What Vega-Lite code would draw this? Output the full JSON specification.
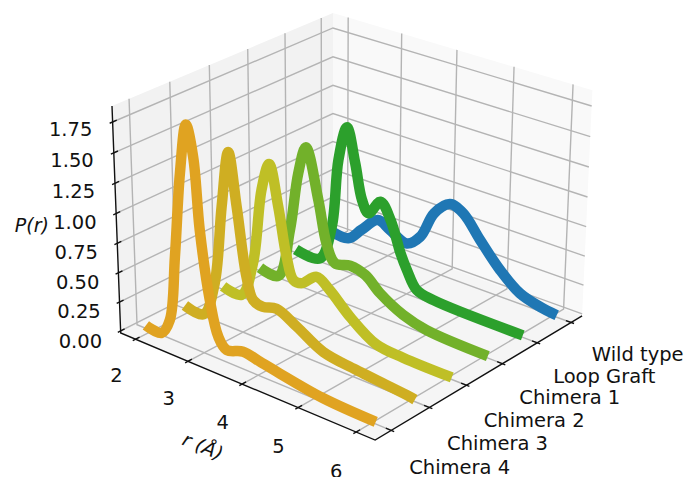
{"$schema":"https://vega.github.io/schema/vega-lite/v6.json","width":684,"height":477,"padding":0,"autosize":"none","background":"white","config":{"view":{"stroke":null}},
"data":{"values":[
{"kind":"left","i":0,"r":1.71,"s":-0.41,"p":-0.0174},{"kind":"left","i":1,"r":1.71,"s":5.33,"p":-0.0174},{"kind":"left","i":2,"r":1.71,"s":5.33,"p":1.8786},{"kind":"left","i":3,"r":1.71,"s":-0.41,"p":1.8786},
{"kind":"right","i":0,"r":1.71,"s":5.33,"p":-0.0174},{"kind":"right","i":1,"r":6.32,"s":5.33,"p":-0.0174},{"kind":"right","i":2,"r":6.32,"s":5.33,"p":1.8786},{"kind":"right","i":3,"r":1.71,"s":5.33,"p":1.8786},
{"kind":"floor","i":0,"r":1.71,"s":-0.41,"p":-0.0174},{"kind":"floor","i":1,"r":6.32,"s":-0.41,"p":-0.0174},{"kind":"floor","i":2,"r":6.32,"s":5.33,"p":-0.0174},{"kind":"floor","i":3,"r":1.71,"s":5.33,"p":-0.0174},
{"kind":"grid","id":"r2","i":0,"r":2,"s":-0.41,"p":-0.0174},{"kind":"grid","id":"r2","i":1,"r":2,"s":5.33,"p":-0.0174},{"kind":"grid","id":"r2","i":2,"r":2,"s":5.33,"p":1.8786},
{"kind":"grid","id":"r3","i":0,"r":3,"s":-0.41,"p":-0.0174},{"kind":"grid","id":"r3","i":1,"r":3,"s":5.33,"p":-0.0174},{"kind":"grid","id":"r3","i":2,"r":3,"s":5.33,"p":1.8786},
{"kind":"grid","id":"r4","i":0,"r":4,"s":-0.41,"p":-0.0174},{"kind":"grid","id":"r4","i":1,"r":4,"s":5.33,"p":-0.0174},{"kind":"grid","id":"r4","i":2,"r":4,"s":5.33,"p":1.8786},
{"kind":"grid","id":"r5","i":0,"r":5,"s":-0.41,"p":-0.0174},{"kind":"grid","id":"r5","i":1,"r":5,"s":5.33,"p":-0.0174},{"kind":"grid","id":"r5","i":2,"r":5,"s":5.33,"p":1.8786},
{"kind":"grid","id":"r6","i":0,"r":6,"s":-0.41,"p":-0.0174},{"kind":"grid","id":"r6","i":1,"r":6,"s":5.33,"p":-0.0174},{"kind":"grid","id":"r6","i":2,"r":6,"s":5.33,"p":1.8786},
{"kind":"grid","id":"s0","i":0,"r":6.32,"s":0,"p":-0.0174},{"kind":"grid","id":"s0","i":1,"r":1.71,"s":0,"p":-0.0174},{"kind":"grid","id":"s0","i":2,"r":1.71,"s":0,"p":1.8786},
{"kind":"grid","id":"s1","i":0,"r":6.32,"s":1,"p":-0.0174},{"kind":"grid","id":"s1","i":1,"r":1.71,"s":1,"p":-0.0174},{"kind":"grid","id":"s1","i":2,"r":1.71,"s":1,"p":1.8786},
{"kind":"grid","id":"s2","i":0,"r":6.32,"s":2,"p":-0.0174},{"kind":"grid","id":"s2","i":1,"r":1.71,"s":2,"p":-0.0174},{"kind":"grid","id":"s2","i":2,"r":1.71,"s":2,"p":1.8786},
{"kind":"grid","id":"s3","i":0,"r":6.32,"s":3,"p":-0.0174},{"kind":"grid","id":"s3","i":1,"r":1.71,"s":3,"p":-0.0174},{"kind":"grid","id":"s3","i":2,"r":1.71,"s":3,"p":1.8786},
{"kind":"grid","id":"s4","i":0,"r":6.32,"s":4,"p":-0.0174},{"kind":"grid","id":"s4","i":1,"r":1.71,"s":4,"p":-0.0174},{"kind":"grid","id":"s4","i":2,"r":1.71,"s":4,"p":1.8786},
{"kind":"grid","id":"s5","i":0,"r":6.32,"s":5,"p":-0.0174},{"kind":"grid","id":"s5","i":1,"r":1.71,"s":5,"p":-0.0174},{"kind":"grid","id":"s5","i":2,"r":1.71,"s":5,"p":1.8786},
{"kind":"grid","id":"p0","i":0,"r":1.71,"s":-0.41,"p":0},{"kind":"grid","id":"p0","i":1,"r":1.71,"s":5.33,"p":0},{"kind":"grid","id":"p0","i":2,"r":6.32,"s":5.33,"p":0},
{"kind":"grid","id":"p1","i":0,"r":1.71,"s":-0.41,"p":0.25},{"kind":"grid","id":"p1","i":1,"r":1.71,"s":5.33,"p":0.25},{"kind":"grid","id":"p1","i":2,"r":6.32,"s":5.33,"p":0.25},
{"kind":"grid","id":"p2","i":0,"r":1.71,"s":-0.41,"p":0.5},{"kind":"grid","id":"p2","i":1,"r":1.71,"s":5.33,"p":0.5},{"kind":"grid","id":"p2","i":2,"r":6.32,"s":5.33,"p":0.5},
{"kind":"grid","id":"p3","i":0,"r":1.71,"s":-0.41,"p":0.75},{"kind":"grid","id":"p3","i":1,"r":1.71,"s":5.33,"p":0.75},{"kind":"grid","id":"p3","i":2,"r":6.32,"s":5.33,"p":0.75},
{"kind":"grid","id":"p4","i":0,"r":1.71,"s":-0.41,"p":1},{"kind":"grid","id":"p4","i":1,"r":1.71,"s":5.33,"p":1},{"kind":"grid","id":"p4","i":2,"r":6.32,"s":5.33,"p":1},
{"kind":"grid","id":"p5","i":0,"r":1.71,"s":-0.41,"p":1.25},{"kind":"grid","id":"p5","i":1,"r":1.71,"s":5.33,"p":1.25},{"kind":"grid","id":"p5","i":2,"r":6.32,"s":5.33,"p":1.25},
{"kind":"grid","id":"p6","i":0,"r":1.71,"s":-0.41,"p":1.5},{"kind":"grid","id":"p6","i":1,"r":1.71,"s":5.33,"p":1.5},{"kind":"grid","id":"p6","i":2,"r":6.32,"s":5.33,"p":1.5},
{"kind":"grid","id":"p7","i":0,"r":1.71,"s":-0.41,"p":1.75},{"kind":"grid","id":"p7","i":1,"r":1.71,"s":5.33,"p":1.75},{"kind":"grid","id":"p7","i":2,"r":6.32,"s":5.33,"p":1.75},
{"kind":"axis","id":"a","i":0,"r":1.71,"s":-0.41,"p":1.8786},{"kind":"axis","id":"a","i":1,"r":1.71,"s":-0.41,"p":-0.0174},{"kind":"axis","id":"a","i":2,"r":6.32,"s":-0.41,"p":-0.0174},{"kind":"axis","id":"a","i":3,"r":6.32,"s":5.33,"p":-0.0174},
{"kind":"axis","id":"tr2","i":0,"r":2,"s":-0.31,"p":-0.0174},{"kind":"axis","id":"tr2","i":1,"r":2,"s":-0.48,"p":-0.0174},
{"kind":"axis","id":"tr3","i":0,"r":3,"s":-0.31,"p":-0.0174},{"kind":"axis","id":"tr3","i":1,"r":3,"s":-0.48,"p":-0.0174},
{"kind":"axis","id":"tr4","i":0,"r":4,"s":-0.31,"p":-0.0174},{"kind":"axis","id":"tr4","i":1,"r":4,"s":-0.48,"p":-0.0174},
{"kind":"axis","id":"tr5","i":0,"r":5,"s":-0.31,"p":-0.0174},{"kind":"axis","id":"tr5","i":1,"r":5,"s":-0.48,"p":-0.0174},
{"kind":"axis","id":"tr6","i":0,"r":6,"s":-0.31,"p":-0.0174},{"kind":"axis","id":"tr6","i":1,"r":6,"s":-0.48,"p":-0.0174},
{"kind":"axis","id":"ts0","i":0,"r":6.23,"s":0,"p":-0.0174},{"kind":"axis","id":"ts0","i":1,"r":6.37,"s":0,"p":-0.0174},
{"kind":"axis","id":"ts1","i":0,"r":6.23,"s":1,"p":-0.0174},{"kind":"axis","id":"ts1","i":1,"r":6.37,"s":1,"p":-0.0174},
{"kind":"axis","id":"ts2","i":0,"r":6.23,"s":2,"p":-0.0174},{"kind":"axis","id":"ts2","i":1,"r":6.37,"s":2,"p":-0.0174},
{"kind":"axis","id":"ts3","i":0,"r":6.23,"s":3,"p":-0.0174},{"kind":"axis","id":"ts3","i":1,"r":6.37,"s":3,"p":-0.0174},
{"kind":"axis","id":"ts4","i":0,"r":6.23,"s":4,"p":-0.0174},{"kind":"axis","id":"ts4","i":1,"r":6.37,"s":4,"p":-0.0174},
{"kind":"axis","id":"ts5","i":0,"r":6.23,"s":5,"p":-0.0174},{"kind":"axis","id":"ts5","i":1,"r":6.37,"s":5,"p":-0.0174},
{"kind":"axis","id":"tp0","i":0,"r":1.71,"s":-0.31,"p":0},{"kind":"axis","id":"tp0","i":1,"r":1.71,"s":-0.48,"p":0},
{"kind":"axis","id":"tp1","i":0,"r":1.71,"s":-0.31,"p":0.25},{"kind":"axis","id":"tp1","i":1,"r":1.71,"s":-0.48,"p":0.25},
{"kind":"axis","id":"tp2","i":0,"r":1.71,"s":-0.31,"p":0.5},{"kind":"axis","id":"tp2","i":1,"r":1.71,"s":-0.48,"p":0.5},
{"kind":"axis","id":"tp3","i":0,"r":1.71,"s":-0.31,"p":0.75},{"kind":"axis","id":"tp3","i":1,"r":1.71,"s":-0.48,"p":0.75},
{"kind":"axis","id":"tp4","i":0,"r":1.71,"s":-0.31,"p":1},{"kind":"axis","id":"tp4","i":1,"r":1.71,"s":-0.48,"p":1},
{"kind":"axis","id":"tp5","i":0,"r":1.71,"s":-0.31,"p":1.25},{"kind":"axis","id":"tp5","i":1,"r":1.71,"s":-0.48,"p":1.25},
{"kind":"axis","id":"tp6","i":0,"r":1.71,"s":-0.31,"p":1.5},{"kind":"axis","id":"tp6","i":1,"r":1.71,"s":-0.48,"p":1.5},
{"kind":"axis","id":"tp7","i":0,"r":1.71,"s":-0.31,"p":1.75},{"kind":"axis","id":"tp7","i":1,"r":1.71,"s":-0.48,"p":1.75},
{"kind":"curve","series":"Wild type","i":0,"s":5,"r":1.89,"p":0.02},{"kind":"curve","series":"Wild type","i":1,"s":5,"r":2.236,"p":0.01},{"kind":"curve","series":"Wild type","i":2,"s":5,"r":2.49,"p":0.13},{"kind":"curve","series":"Wild type","i":3,"s":5,"r":2.8,"p":0.27},{"kind":"curve","series":"Wild type","i":4,"s":5,"r":3.04,"p":0.22},{"kind":"curve","series":"Wild type","i":5,"s":5,"r":3.356,"p":0.153},{"kind":"curve","series":"Wild type","i":6,"s":5,"r":3.605,"p":0.257},{"kind":"curve","series":"Wild type","i":7,"s":5,"r":3.853,"p":0.506},{"kind":"curve","series":"Wild type","i":8,"s":5,"r":4.135,"p":0.633},{"kind":"curve","series":"Wild type","i":9,"s":5,"r":4.38,"p":0.593},{"kind":"curve","series":"Wild type","i":10,"s":5,"r":4.69,"p":0.414},{"kind":"curve","series":"Wild type","i":11,"s":5,"r":5.06,"p":0.214},{"kind":"curve","series":"Wild type","i":12,"s":5,"r":5.42,"p":0.074},{"kind":"curve","series":"Wild type","i":13,"s":5,"r":5.78,"p":0.02},{"kind":"curve","series":"Wild type","i":14,"s":5,"r":6.07,"p":0},
{"kind":"curve","series":"Loop Graft","i":0,"s":4,"r":1.89,"p":0.01},{"kind":"curve","series":"Loop Graft","i":1,"s":4,"r":2.36,"p":0.01},{"kind":"curve","series":"Loop Graft","i":2,"s":4,"r":2.59,"p":0.335},{"kind":"curve","series":"Loop Graft","i":3,"s":4,"r":2.715,"p":0.94},{"kind":"curve","series":"Loop Graft","i":4,"s":4,"r":2.874,"p":1.247},{"kind":"curve","series":"Loop Graft","i":5,"s":4,"r":3.03,"p":0.963},{"kind":"curve","series":"Loop Graft","i":6,"s":4,"r":3.16,"p":0.664},{"kind":"curve","series":"Loop Graft","i":7,"s":4,"r":3.284,"p":0.569},{"kind":"curve","series":"Loop Graft","i":8,"s":4,"r":3.5,"p":0.705},{"kind":"curve","series":"Loop Graft","i":9,"s":4,"r":3.69,"p":0.578},{"kind":"curve","series":"Loop Graft","i":10,"s":4,"r":3.88,"p":0.32},{"kind":"curve","series":"Loop Graft","i":11,"s":4,"r":4,"p":0.194},{"kind":"curve","series":"Loop Graft","i":12,"s":4,"r":4.185,"p":0.05},{"kind":"curve","series":"Loop Graft","i":13,"s":4,"r":4.49,"p":0.016},{"kind":"curve","series":"Loop Graft","i":14,"s":4,"r":6.07,"p":0},
{"kind":"curve","series":"Chimera 1","i":0,"s":3,"r":1.89,"p":0.01},{"kind":"curve","series":"Chimera 1","i":1,"s":3,"r":2.25,"p":0},{"kind":"curve","series":"Chimera 1","i":2,"s":3,"r":2.48,"p":0.447},{"kind":"curve","series":"Chimera 1","i":3,"s":3,"r":2.646,"p":0.968},{"kind":"curve","series":"Chimera 1","i":4,"s":3,"r":2.79,"p":1.21},{"kind":"curve","series":"Chimera 1","i":5,"s":3,"r":3.02,"p":0.796},{"kind":"curve","series":"Chimera 1","i":6,"s":3,"r":3.17,"p":0.448},{"kind":"curve","series":"Chimera 1","i":7,"s":3,"r":3.33,"p":0.3},{"kind":"curve","series":"Chimera 1","i":8,"s":3,"r":3.61,"p":0.33},{"kind":"curve","series":"Chimera 1","i":9,"s":3,"r":3.89,"p":0.297},{"kind":"curve","series":"Chimera 1","i":10,"s":3,"r":4.16,"p":0.187},{"kind":"curve","series":"Chimera 1","i":11,"s":3,"r":4.58,"p":0.076},{"kind":"curve","series":"Chimera 1","i":12,"s":3,"r":5,"p":0.022},{"kind":"curve","series":"Chimera 1","i":13,"s":3,"r":6.07,"p":0},
{"kind":"curve","series":"Chimera 2","i":0,"s":2,"r":1.89,"p":0.01},{"kind":"curve","series":"Chimera 2","i":1,"s":2,"r":2.25,"p":0},{"kind":"curve","series":"Chimera 2","i":2,"s":2,"r":2.48,"p":0.32},{"kind":"curve","series":"Chimera 2","i":3,"s":2,"r":2.66,"p":0.98},{"kind":"curve","series":"Chimera 2","i":4,"s":2,"r":2.807,"p":1.22},{"kind":"curve","series":"Chimera 2","i":5,"s":2,"r":2.97,"p":0.887},{"kind":"curve","series":"Chimera 2","i":6,"s":2,"r":3.117,"p":0.485},{"kind":"curve","series":"Chimera 2","i":7,"s":2,"r":3.24,"p":0.307},{"kind":"curve","series":"Chimera 2","i":8,"s":2,"r":3.39,"p":0.305},{"kind":"curve","series":"Chimera 2","i":9,"s":2,"r":3.67,"p":0.41},{"kind":"curve","series":"Chimera 2","i":10,"s":2,"r":3.91,"p":0.34},{"kind":"curve","series":"Chimera 2","i":11,"s":2,"r":4.28,"p":0.177},{"kind":"curve","series":"Chimera 2","i":12,"s":2,"r":4.75,"p":0.03},{"kind":"curve","series":"Chimera 2","i":13,"s":2,"r":5.226,"p":0.005},{"kind":"curve","series":"Chimera 2","i":14,"s":2,"r":6.07,"p":0},
{"kind":"curve","series":"Chimera 3","i":0,"s":1,"r":1.885,"p":0.01},{"kind":"curve","series":"Chimera 3","i":1,"s":1,"r":2.25,"p":0},{"kind":"curve","series":"Chimera 3","i":2,"s":1,"r":2.475,"p":0.31},{"kind":"curve","series":"Chimera 3","i":3,"s":1,"r":2.637,"p":0.99},{"kind":"curve","series":"Chimera 3","i":4,"s":1,"r":2.778,"p":1.465},{"kind":"curve","series":"Chimera 3","i":5,"s":1,"r":2.918,"p":1.035},{"kind":"curve","series":"Chimera 3","i":6,"s":1,"r":3.08,"p":0.474},{"kind":"curve","series":"Chimera 3","i":7,"s":1,"r":3.2,"p":0.295},{"kind":"curve","series":"Chimera 3","i":8,"s":1,"r":3.38,"p":0.27},{"kind":"curve","series":"Chimera 3","i":9,"s":1,"r":3.63,"p":0.3},{"kind":"curve","series":"Chimera 3","i":10,"s":1,"r":4,"p":0.215},{"kind":"curve","series":"Chimera 3","i":11,"s":1,"r":4.476,"p":0.09},{"kind":"curve","series":"Chimera 3","i":12,"s":1,"r":5.06,"p":0.05},{"kind":"curve","series":"Chimera 3","i":13,"s":1,"r":5.93,"p":0.01},{"kind":"curve","series":"Chimera 3","i":14,"s":1,"r":6.075,"p":0},
{"kind":"curve","series":"Chimera 4","i":0,"s":0,"r":1.885,"p":0.01},{"kind":"curve","series":"Chimera 4","i":1,"s":0,"r":2.19,"p":0},{"kind":"curve","series":"Chimera 4","i":2,"s":0,"r":2.358,"p":0.144},{"kind":"curve","series":"Chimera 4","i":3,"s":0,"r":2.49,"p":0.705},{"kind":"curve","series":"Chimera 4","i":4,"s":0,"r":2.628,"p":1.42},{"kind":"curve","series":"Chimera 4","i":5,"s":0,"r":2.76,"p":1.83},{"kind":"curve","series":"Chimera 4","i":6,"s":0,"r":2.88,"p":1.59},{"kind":"curve","series":"Chimera 4","i":7,"s":0,"r":2.97,"p":1.008},{"kind":"curve","series":"Chimera 4","i":8,"s":0,"r":3.128,"p":0.454},{"kind":"curve","series":"Chimera 4","i":9,"s":0,"r":3.273,"p":0.17},{"kind":"curve","series":"Chimera 4","i":10,"s":0,"r":3.424,"p":0.086},{"kind":"curve","series":"Chimera 4","i":11,"s":0,"r":3.729,"p":0.13},{"kind":"curve","series":"Chimera 4","i":12,"s":0,"r":4.036,"p":0.103},{"kind":"curve","series":"Chimera 4","i":13,"s":0,"r":4.337,"p":0.077},{"kind":"curve","series":"Chimera 4","i":14,"s":0,"r":5.15,"p":0.016},{"kind":"curve","series":"Chimera 4","i":15,"s":0,"r":6.06,"p":0},
{"kind":"label","label":"2","r":2,"s":-0.91,"p":-0.25},{"kind":"label","label":"3","r":3,"s":-0.91,"p":-0.25},{"kind":"label","label":"4","r":4,"s":-0.91,"p":-0.25},{"kind":"label","label":"5","r":5,"s":-0.91,"p":-0.25},{"kind":"label","label":"6","r":6,"s":-0.91,"p":-0.25},
{"kind":"label","label":"Chimera 4","r":7.45,"s":0,"p":-0.09},{"kind":"label","label":"Chimera 3","r":7.45,"s":1,"p":-0.09},{"kind":"label","label":"Chimera 2","r":7.45,"s":2,"p":-0.09},{"kind":"label","label":"Chimera 1","r":7.45,"s":3,"p":-0.09},{"kind":"label","label":"Loop Graft","r":7.45,"s":4,"p":-0.09},{"kind":"label","label":"Wild type","r":7.45,"s":5,"p":-0.09},
{"kind":"label","label":"0.00","r":1.71,"s":-1.39,"p":0.08},{"kind":"label","label":"0.25","r":1.71,"s":-1.39,"p":0.33},{"kind":"label","label":"0.50","r":1.71,"s":-1.39,"p":0.58},{"kind":"label","label":"0.75","r":1.71,"s":-1.39,"p":0.83},{"kind":"label","label":"1.00","r":1.71,"s":-1.39,"p":1.08},{"kind":"label","label":"1.25","r":1.71,"s":-1.39,"p":1.33},{"kind":"label","label":"1.50","r":1.71,"s":-1.39,"p":1.58},{"kind":"label","label":"1.75","r":1.71,"s":-1.39,"p":1.83},
{"kind":"ptitle","label":"P(r)","r":1.71,"s":-2.37,"p":1.21},
{"kind":"rtitle","label":"r (Å)","r":4,"s":-1.41,"p":-0.36}
]},
"transform":[
{"calculate":"(datum.r-1.71)/4.61","as":"u"},
{"calculate":"(datum.s+0.41)/5.74","as":"w"},
{"calculate":"(datum.p+0.0174)/1.896","as":"t"},
{"calculate":"1-0.0758*datum.u+0.08405*datum.w-0.0397*datum.t","as":"d"},
{"calculate":"(120.7+226*datum.u+240.2*datum.w-13.15*datum.t)/datum.d","as":"sx"},
{"calculate":"(333+73.7*datum.u-88.2*datum.w-231.2*datum.t)/datum.d","as":"sy"}
],
"encoding":{
"x":{"field":"sx","type":"quantitative","axis":null,"scale":{"domain":[0,684],"nice":false,"zero":false}},
"y":{"field":"sy","type":"quantitative","axis":null,"scale":{"domain":[477,0],"nice":false,"zero":false}}
},
"layer":[
{"transform":[{"filter":"datum.kind=='left'"}],"mark":{"type":"line","fill":"#f2f2f2","stroke":"#f2f2f2","strokeWidth":0},"encoding":{"order":{"field":"i"}}},
{"transform":[{"filter":"datum.kind=='right'"}],"mark":{"type":"line","fill":"#f9f9f9","stroke":"#f9f9f9","strokeWidth":0},"encoding":{"order":{"field":"i"}}},
{"transform":[{"filter":"datum.kind=='floor'"}],"mark":{"type":"line","fill":"#f5f5f5","stroke":"#f5f5f5","strokeWidth":0},"encoding":{"order":{"field":"i"}}},
{"transform":[{"filter":"datum.kind=='grid'"}],"mark":{"type":"line","stroke":"#b4b4b4","strokeWidth":1.4},"encoding":{"detail":{"field":"id"},"order":{"field":"i"}}},
{"transform":[{"filter":"datum.kind=='axis'"}],"mark":{"type":"line","stroke":"#111111","strokeWidth":1.4},"encoding":{"detail":{"field":"id"},"order":{"field":"i"}}},
{"transform":[{"filter":"datum.kind=='curve'"}],"mark":{"type":"line","strokeWidth":10.5,"strokeCap":"butt","strokeJoin":"round","interpolate":"catmull-rom"},"encoding":{"color":{"field":"series","type":"nominal","legend":null,"sort":null,"scale":{"domain":["Wild type","Loop Graft","Chimera 1","Chimera 2","Chimera 3","Chimera 4"],"range":["#1f77b4","#2ca02c","#72b12a","#bfbf26","#cfae22","#e0a321"]}},"order":{"field":"i"}}},
{"transform":[{"filter":"datum.kind=='label'"}],"mark":{"type":"text","font":"DejaVu Sans","fontSize":19.5,"fill":"#111111","align":"center","baseline":"middle"},"encoding":{"text":{"field":"label"}}},
{"transform":[{"filter":"datum.kind=='ptitle'"}],"mark":{"type":"text","font":"DejaVu Sans","fontStyle":"italic","fontSize":19,"fill":"#111111","align":"center","baseline":"middle"},"encoding":{"text":{"field":"label"}}},
{"transform":[{"filter":"datum.kind=='rtitle'"}],"mark":{"type":"text","font":"DejaVu Sans","fontStyle":"italic","fontSize":19,"fill":"#111111","align":"center","baseline":"middle","angle":23},"encoding":{"text":{"field":"label"}}}
]}
